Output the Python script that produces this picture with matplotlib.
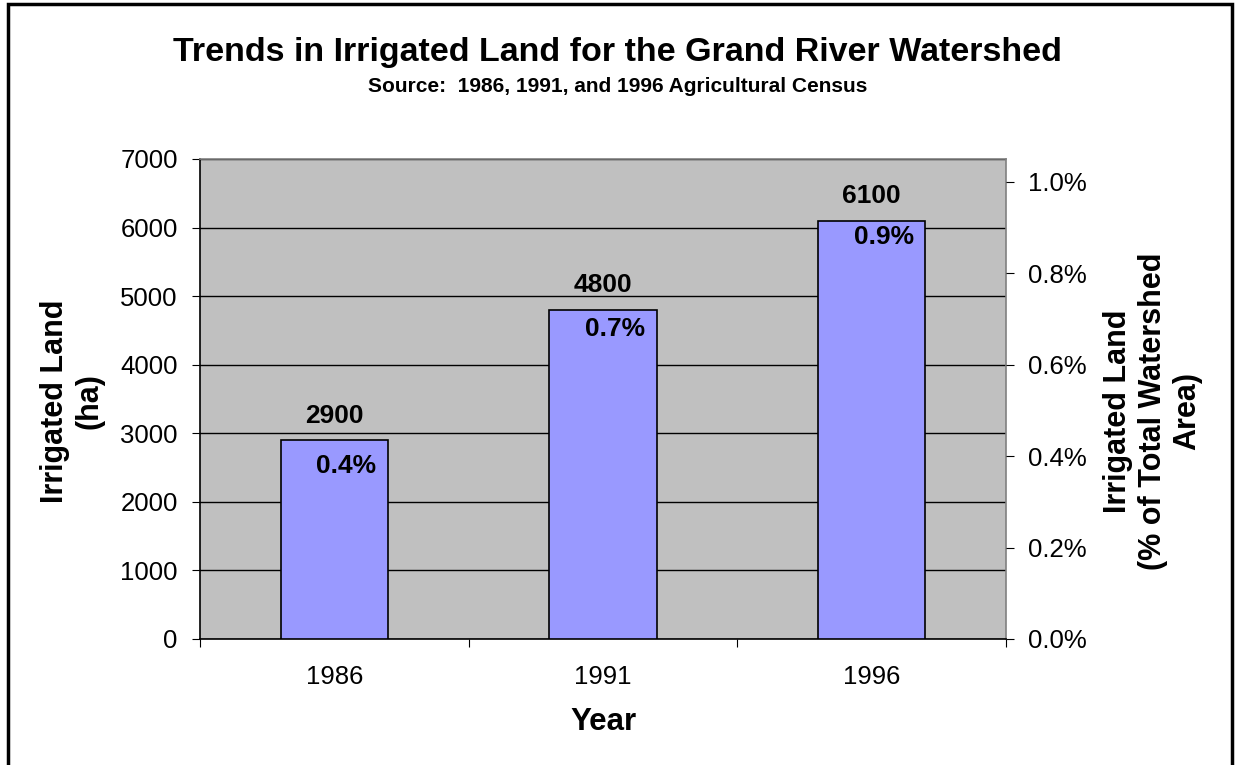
#!/usr/bin/env python3

import matplotlib
matplotlib.use("Agg")
from matplotlib import pyplot as plt
from matplotlib.patches import Rectangle
from matplotlib.ticker import FuncFormatter, MultipleLocator

years = ["1986", "1991", "1996"]
irrigated_ha = [2900, 4800, 6100]
pct_watershed = [0.4, 0.7, 0.9]

plt.rcParams["font.family"] = ["Liberation Sans", "DejaVu Sans"]

W, H = 1235, 765
fig = plt.figure(figsize=(W / 100, H / 100), dpi=100)
fig.patch.set_facecolor("white")

# outer chart frame
fig.patches.append(Rectangle((8 / W, -0.01), (1232 - 8) / W, 1.01 - 4 / H,
                             transform=fig.transFigure, fill=False,
                             edgecolor="black", linewidth=2.5, clip_on=False))

ax = fig.add_axes([200 / W, 1 - 639 / H, (1006 - 200) / W, (639 - 159) / H])
ax.set_facecolor("#C0C0C0")

x = list(range(len(years)))
ax.bar(x, irrigated_ha, width=0.4, color="#9999FF", edgecolor="black",
       linewidth=1.2, zorder=3)
for xi, v in zip(x, irrigated_ha):
	ax.annotate(str(v), (xi, v), xytext=(0, 9), textcoords="offset points",
				ha="center", va="bottom", fontsize=19, fontweight="bold")

ax.set_xlim(-0.5, 2.5)
ax.set_ylim(0, 7000)
ax.yaxis.set_major_locator(MultipleLocator(1000))
ax.grid(axis="y", color="black", linewidth=1.0, zorder=1)
ax.set_xticks(x)
ax.set_xticklabels(years)
ax.set_xticks([-0.5, 0.5, 1.5, 2.5], minor=True)
ax.tick_params(axis="x", which="major", length=0, pad=19, labelsize=18.5)
ax.tick_params(axis="x", which="minor", length=6, direction="out", width=0.8)
ax.tick_params(axis="y", length=6, width=0.8, labelsize=18.5, pad=10)

for side in ["left", "bottom"]:
	ax.spines[side].set_color("black")
	ax.spines[side].set_linewidth(1.2)
for side in ["top", "right"]:
	ax.spines[side].set_color("#808080")
	ax.spines[side].set_linewidth(1.2)

# secondary axis: share of watershed area
ax2 = ax.twinx()
ax2.set_ylim(0, 1.05)
ax2.yaxis.set_major_locator(MultipleLocator(0.2))
ax2.yaxis.set_major_formatter(FuncFormatter(lambda v, p: "%.1f%%" % v))
ax2.tick_params(axis="y", length=6, width=0.8, labelsize=18.5, pad=10)
for side in ax2.spines:
	ax2.spines[side].set_visible(False)
for xi, p in zip(x, pct_watershed):
	ax2.annotate("%.1f%%" % p, (xi, p), xytext=(-13, -7),
				 textcoords="offset points", ha="left", va="center",
				 fontsize=19, fontweight="bold")

# axis titles
fig.text(603 / W, 1 - 722 / H, "Year", ha="center", va="center",
		 fontsize=22.5, fontweight="bold")
fig.text(72 / W, 1 - 401 / H, "Irrigated Land\n(ha)", rotation=90,
		 ha="center", va="center", multialignment="center",
		 fontsize=22, fontweight="bold")
fig.text(1153 / W, 1 - 411 / H, "Irrigated Land\n(% of Total Watershed\nArea)",
		 rotation=90, ha="center", va="center", multialignment="center",
		 fontsize=22, fontweight="bold")

fig.text(0.5, 1 - 53 / H, "Trends in Irrigated Land for the Grand River Watershed",
		 ha="center", va="center", fontsize=24.5, fontweight="bold")
fig.text(0.5, 1 - 86 / H, "Source:  1986, 1991, and 1996 Agricultural Census",
		 ha="center", va="center", fontsize=15, fontweight="bold")

plt.savefig("out.png", dpi=100)
plt.close()
